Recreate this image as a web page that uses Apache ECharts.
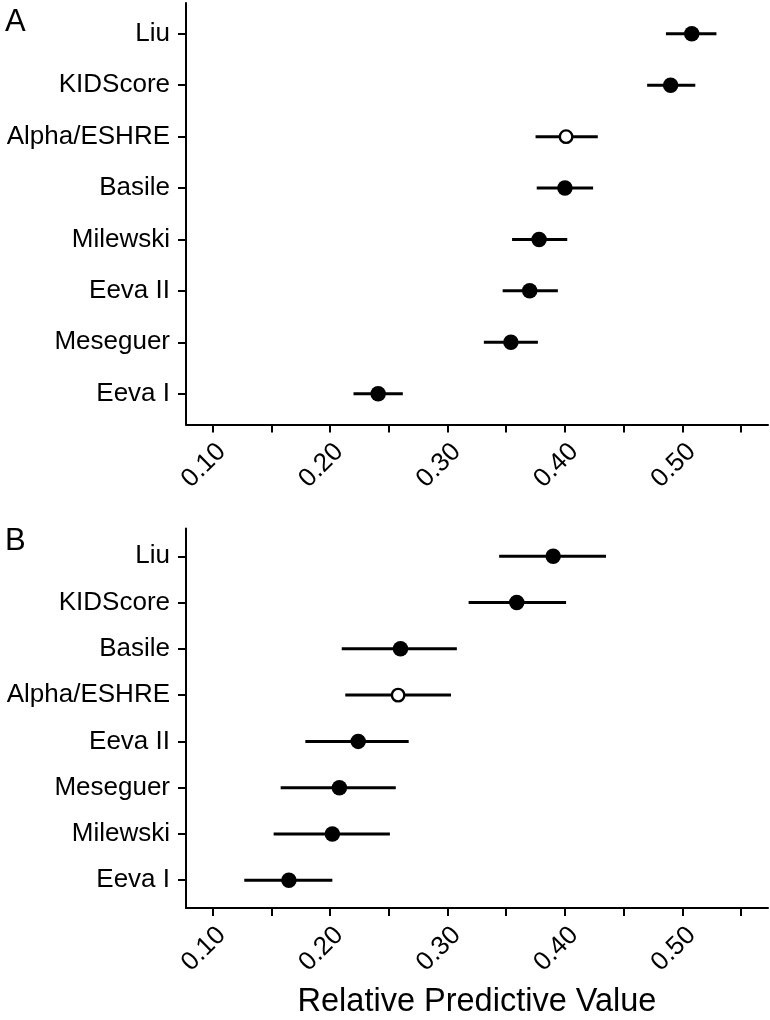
<!DOCTYPE html>
<html>
<head>
<meta charset="utf-8">
<script src="https://cdn.jsdelivr.net/npm/echarts@6/dist/echarts.min.js"></script>
<style>
html,body{margin:0;padding:0;background:#fff;}
#chart{width:770px;height:1020px;}
</style>
</head>
<body>
<div id="chart"></div>
<script>
// Panel A
const catsA = ['Liu','KIDScore','Alpha/ESHRE','Basile','Milewski','Eeva II','Meseguer','Eeva I'];
const estA  = [0.508, 0.490, 0.401, 0.400, 0.378, 0.370, 0.354, 0.241];
const loA   = [0.486, 0.470, 0.375, 0.376, 0.355, 0.347, 0.331, 0.220];
const hiA   = [0.529, 0.511, 0.428, 0.424, 0.402, 0.394, 0.377, 0.262];
// Panel B
const catsB = ['Liu','KIDScore','Basile','Alpha/ESHRE','Eeva II','Meseguer','Milewski','Eeva I'];
const estB  = [0.390, 0.359, 0.260, 0.258, 0.224, 0.208, 0.202, 0.165];
const loB   = [0.344, 0.318, 0.210, 0.213, 0.179, 0.158, 0.152, 0.127];
const hiB   = [0.435, 0.401, 0.308, 0.303, 0.267, 0.256, 0.251, 0.202];
// open-circle (hollow) markers
const hollowCats = ['Alpha/ESHRE'];
// axis ticks / labels
const xTicks  = [0.10,0.15,0.20,0.25,0.30,0.35,0.40,0.45,0.50,0.55];
const xLabels = [0.10,0.20,0.30,0.40,0.50];
const panelLabels = ['A','B'];
const xTitle = 'Relative Predictive Value';

const X_MIN = 0.0774, X_MAX = 0.5729;
const FONT = 'Liberation Sans';

const chart = echarts.init(document.getElementById('chart'));

function idxs(n){ const a=[]; for(let i=0;i<n;i++) a.push(i); return a; }

function xAxisCfg(gi, withName){
  return {
    type:'value', gridIndex:gi, min:X_MIN, max:X_MAX,
    axisLine:{show:true, onZero:false, lineStyle:{color:'#000', width:2}},
    axisTick:{show:true, inside:false, length:8, lineStyle:{color:'#000', width:2}, customValues:xTicks},
    axisLabel:{show:true, rotate:45, margin:14, color:'#000', fontFamily:FONT, fontSize:26,
      align:'right', verticalAlign:'top',
      customValues:xLabels, formatter:v=>Number(v).toFixed(2)},
    splitLine:{show:false},
    name: withName ? xTitle : '',
    nameLocation:'middle', nameGap:78,
    nameTextStyle:{color:'#000', fontFamily:FONT, fontSize:32.5}
  };
}
function yAxisCfg(gi, cats){
  return {
    type:'value', gridIndex:gi, min:-0.6, max:7.6, inverse:true,
    axisLine:{show:true, onZero:false, lineStyle:{color:'#000', width:2}},
    axisTick:{show:true, inside:false, length:8, lineStyle:{color:'#000', width:2}, customValues:idxs(cats.length)},
    axisLabel:{show:true, margin:16, color:'#000', fontFamily:FONT, fontSize:26,
      customValues:idxs(cats.length), formatter:v=>cats[Math.round(v)] || ''},
    splitLine:{show:false}
  };
}
function errSeries(gi, lo, hi){
  return {
    type:'custom', xAxisIndex:gi, yAxisIndex:gi,
    data: lo.map((l,i)=>[l, hi[i], i]),
    encode:{x:[0,1], y:2},
    renderItem:(params, api)=>{
      const p1 = api.coord([api.value(0), api.value(2)]);
      const p2 = api.coord([api.value(1), api.value(2)]);
      return {type:'line', shape:{x1:p1[0], y1:p1[1], x2:p2[0], y2:p2[1]},
        style:{stroke:'#000', lineWidth:3}};
    },
    silent:true, z:2
  };
}
function pointSeries(gi, cats, est){
  return {
    type:'scatter', xAxisIndex:gi, yAxisIndex:gi, symbol:'circle',
    itemStyle:{opacity:1},
    data: est.map((v,i)=>{
      const hollow = hollowCats.includes(cats[i]);
      return hollow
        ? {value:[v,i], symbolSize:12.5, itemStyle:{color:'#fff', borderColor:'#000', borderWidth:2.4, opacity:1}}
        : {value:[v,i], symbolSize:15.5, itemStyle:{color:'#000', borderColor:'#000', borderWidth:0, opacity:1}};
    }),
    silent:true, z:3
  };
}

chart.setOption({
  backgroundColor:'#fff',
  animation:false,
  title:[
    {text:panelLabels[0], left:0, top:2, textStyle:{color:'#000', fontFamily:FONT, fontSize:31, fontWeight:'normal'}},
    {text:panelLabels[1], left:0, top:521, textStyle:{color:'#000', fontFamily:FONT, fontSize:31, fontWeight:'normal'}}
  ],
  grid:[
    {left:186, width:582, top:3, height:421.5},
    {left:186, width:582, top:528.5, height:380.5}
  ],
  xAxis:[xAxisCfg(0,false), xAxisCfg(1,true)],
  yAxis:[yAxisCfg(0,catsA), yAxisCfg(1,catsB)],
  series:[
    errSeries(0, loA, hiA), pointSeries(0, catsA, estA),
    errSeries(1, loB, hiB), pointSeries(1, catsB, estB)
  ]
});
</script>
</body>
</html>
